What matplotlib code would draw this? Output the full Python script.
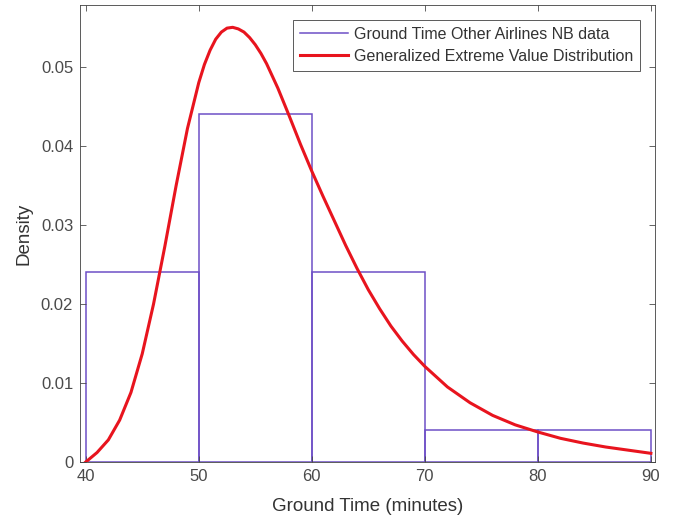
import numpy as np
import matplotlib
matplotlib.use("Agg")
import matplotlib.pyplot as plt
from matplotlib.lines import Line2D

plt.rcParams['font.family'] = ['Liberation Sans', 'DejaVu Sans']

# histogram (density) of ground time, 10-minute bins
bin_edges = [40, 50, 60, 70, 80, 90]
bin_density = [0.024, 0.044, 0.024, 0.004, 0.004]

# fitted GEV pdf
gev_x = [40, 41, 42, 43, 44, 45, 46, 47, 48, 49, 50, 50.5, 51, 51.5, 52, 52.5,
         53, 53.5, 54, 54.5, 55, 55.5, 56, 57, 58, 59, 60, 61, 62, 63, 64, 65,
         66, 67, 68, 69, 70, 72, 74, 76, 78, 80, 82, 84, 86, 88, 90]
gev_y = [0.0000, 0.0012, 0.0028, 0.0053, 0.0088, 0.0137, 0.0200, 0.0273, 0.0350,
         0.0422, 0.0480, 0.0503, 0.0521, 0.0535, 0.0544, 0.0549, 0.0550, 0.0548,
         0.0544, 0.0537, 0.0528, 0.0517, 0.0504, 0.0473, 0.0438, 0.0402, 0.0368,
         0.0336, 0.0305, 0.0274, 0.0245, 0.0218, 0.0194, 0.0172, 0.0153, 0.0136,
         0.0121, 0.0095, 0.0075, 0.0059, 0.0047, 0.0038, 0.0030, 0.0024, 0.0019,
         0.0015, 0.0011]

hist_color = '#6e4fc6'
fit_color = '#e8141e'

fig = plt.figure(figsize=(6.73, 5.2), dpi=100)
ax = fig.add_axes([0.119, 0.1115, 0.854, 0.8785])

ax.hist(bin_edges[:-1], bins=bin_edges, weights=bin_density, histtype='bar',
        facecolor='none', edgecolor=hist_color, linewidth=1.1)
ax.plot(gev_x, gev_y, color=fit_color, lw=2.2, solid_joinstyle='round')

ax.set_xlim(39.5, 90.35)
ax.set_ylim(0, 0.0578)
ax.set_xticks([40, 50, 60, 70, 80, 90])
ax.set_yticks([0, 0.01, 0.02, 0.03, 0.04, 0.05])
ax.set_yticklabels(['0', '0.01', '0.02', '0.03', '0.04', '0.05'])
ax.tick_params(direction='in', top=True, right=True, labelsize=12,
               colors='#4a4a4a', length=4, width=0.6, pad=5)
for s in ax.spines.values():
    s.set_color('#404040')
    s.set_linewidth(0.6)

ax.set_xlabel('Ground Time (minutes)', fontsize=13.5, color='#333333', labelpad=10)
ax.set_ylabel('Density', fontsize=13.5, color='#333333', labelpad=6)

handles = [Line2D([], [], color=hist_color, lw=1.1),
           Line2D([], [], color=fit_color, lw=2.2)]
labels = ['Ground Time Other Airlines NB data',
          'Generalized Extreme Value Distribution']
leg = ax.legend(handles, labels, loc='upper right', fontsize=11.5, fancybox=False,
                edgecolor='#404040', framealpha=1, handlelength=3.0,
                handletextpad=0.4, borderaxespad=0.9, labelspacing=0.45,
                borderpad=0.45)
leg.get_frame().set_linewidth(0.6)
for t in leg.get_texts():
    t.set_color('#333333')

fig.savefig('out.png', dpi=100)
